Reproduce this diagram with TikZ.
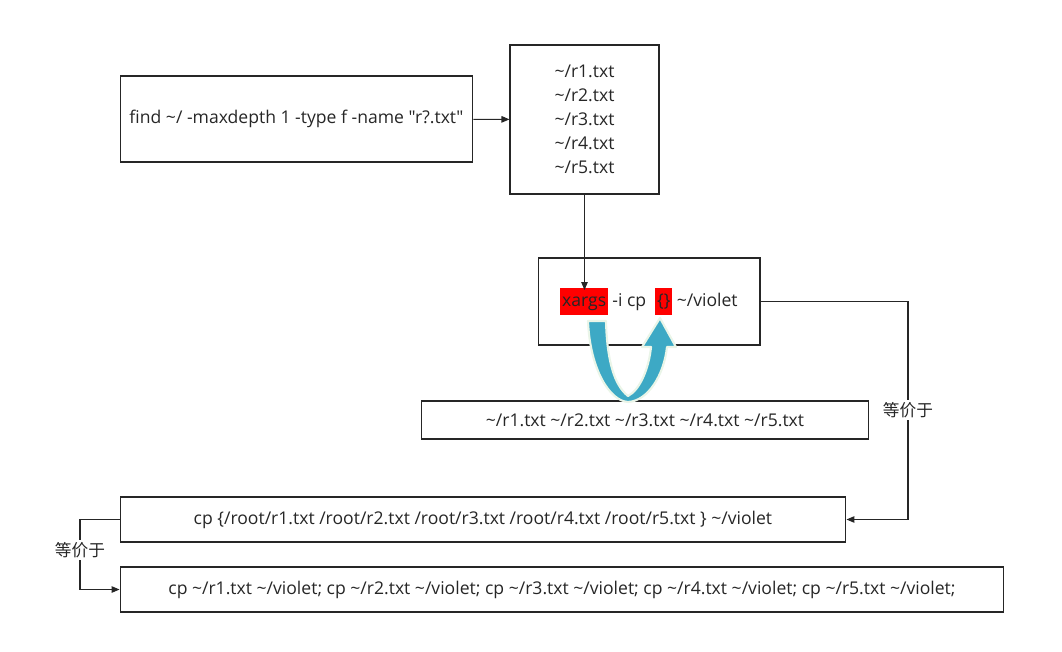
\documentclass[tikz,border=0pt]{standalone}
\usepackage{fontspec}
\setmainfont{Open Sans}[Ligatures=TeXOff]
\newfontfamily\cjk{Noto Sans CJK SC}
\usepackage{xcolor}
\usetikzlibrary{arrows.meta,positioning}

\definecolor{flowteal}{HTML}{3DA9C5}
\definecolor{flowrim}{HTML}{EAF5E8}
\definecolor{inkgray}{HTML}{262626}
\newcommand{\tld}{\textasciitilde}
\newcommand{\hl}[1]{{\setlength{\fboxsep}{1pt}\colorbox{red}{\strut #1}}}

\begin{document}
\begin{tikzpicture}[
    x=0.02cm, y=-0.02cm,
    font=\fontsize{10}{13.6}\selectfont,
    box/.style={rectangle, draw=inkgray, line width=0.6pt, text=inkgray, inner sep=2pt},
    link/.style={draw=inkgray, line width=0.6pt, -{Triangle[length=1.6mm, width=1.3mm]}},
    eqlabel/.style={fill=white, text=inkgray, inner sep=1pt, font=\cjk\fontsize{9.5}{11}\selectfont}
]
    \useasboundingbox (0,0) rectangle (1062,652);

    \node[box, minimum width=7.06cm, minimum height=1.72cm] (find) at (296.5,119) {find \tld/ -maxdepth 1 -type f -name "r?.txt"};
    \node[box, minimum width=2.98cm, minimum height=2.98cm, align=center] (files) at (584.5,119.5)
        {\tld/r1.txt\\ \tld/r2.txt\\ \tld/r3.txt\\ \tld/r4.txt\\ \tld/r5.txt};
    \node[box, minimum width=4.44cm, minimum height=1.74cm] (xargs) at (649,301.5)
        {\hl{xargs} -i cp\ \ \hl{\{\}} \tld/violet};
    \node[box, minimum width=8.96cm, minimum height=0.76cm] (args) at (645,420)
        {\tld/r1.txt \tld/r2.txt \tld/r3.txt \tld/r4.txt \tld/r5.txt};
    \node[box, minimum width=14.52cm, minimum height=0.9cm] (cpall) at (483,519.5)
        {cp \{/root/r1.txt /root/r2.txt /root/r3.txt /root/r4.txt /root/r5.txt \} \tld/violet};
    \node[box, minimum width=17.68cm, minimum height=0.9cm] (cpeach) at (562,589.5)
        {cp \tld/r1.txt \tld/violet; cp \tld/r2.txt \tld/violet; cp \tld/r3.txt \tld/violet; cp \tld/r4.txt \tld/violet; cp \tld/r5.txt \tld/violet;};

    \coordinate (xargstop) at (584.5,290);
    \coordinate (rbend) at (908,410);
    \coordinate (lbend) at (80,550);

    \draw[link] (find) -- (files);
    \draw[link] (files.south) -- (xargstop);
    \draw[link] (xargs.east) -| (rbend) node[eqlabel] {等价于} |- (cpall.east);
    \draw[link] (cpall.west) -| (lbend) node[eqlabel] {等价于} |- (cpeach.west);

    % curved arrow back into the braces
    \fill[flowteal, draw=flowrim, line width=1.2pt, line join=round]
        (588,321) .. controls (590,370) and (610,401) .. (628,402)
        .. controls (648,401) and (664,375) .. (667,347)
        -- (676,347) -- (660,318) -- (642,347) -- (651,347)
        .. controls (649,368) and (640,390) .. (628,396)
        .. controls (614,385) and (607,360) .. (606,321) -- cycle;
\end{tikzpicture}
\end{document}
